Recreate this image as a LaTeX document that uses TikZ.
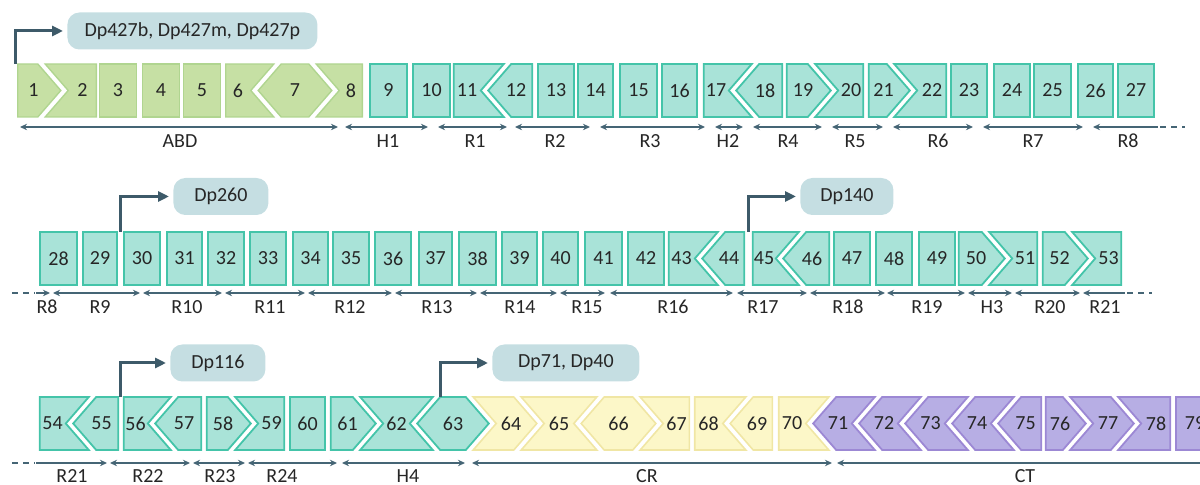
\documentclass[tikz,border=0pt]{standalone}
\usepackage{fontspec}
\setmainfont{Carlito}
\usetikzlibrary{arrows.meta}

\definecolor{abdfill}{HTML}{C6E0A4}
\definecolor{abdline}{HTML}{B0D590}
\definecolor{rodfill}{HTML}{A9E3D8}
\definecolor{rodline}{HTML}{44C4A9}
\definecolor{crfill}{HTML}{FCF7C8}
\definecolor{crline}{HTML}{F0E6A4}
\definecolor{ctfill}{HTML}{B7AEE4}
\definecolor{ctline}{HTML}{9C88D4}
\definecolor{promfill}{HTML}{C5DEE2}
\definecolor{promline}{HTML}{3D5A69}
\definecolor{domline}{HTML}{456575}

% half depth of a chevron side
\newcommand{\chevw}{11.5}
% style, top, left, right, left side, right side (1 point, -1 notch, 0 flat), number
\newcommand{\exon}[7]{%
  \pgfmathsetmacro{\exL}{#3+3*(#5)*(#5)+0.7}%
  \pgfmathsetmacro{\exR}{#4-3*(#6)*(#6)-0.7}%
  \pgfmathsetmacro{\exM}{(\exL+\exR)/2+3*((#5)*(#5)-(#5)-(#6)*(#6)+(#6))}%
  \filldraw[#1] ({\exL+(#5)*\chevw},#2) -- ({\exR-(#6)*\chevw},#2)
    -- ({\exR+(#6)*\chevw},#2+26.5) -- ({\exR-(#6)*\chevw},#2+53)
    -- ({\exL+(#5)*\chevw},#2+53) -- ({\exL-(#5)*\chevw},#2+26.5) -- cycle;
  \node[exnum] (e#7) at (\exM,#2+26.5) {#7};
}

\begin{document}
\begin{tikzpicture}[x=0.5pt,y=-0.5pt,>={Stealth[length=3.5pt,width=3.2pt]},
  abdex/.style={fill=abdfill,draw=abdline,line width=0.7pt},
  rodex/.style={fill=rodfill,draw=rodline,line width=0.9pt},
  crex/.style={fill=crfill,draw=crline,line width=0.8pt},
  ctex/.style={fill=ctfill,draw=ctline,line width=0.9pt},
  exnum/.style={text=black!85,inner sep=0pt},
  prom/.style={draw=promline,line width=1.5pt,shorten >=2pt,-{Triangle[length=5.5pt,width=5pt]}},
  promlab/.style={fill=promfill,rounded corners=6pt,anchor=west,minimum height=18.5pt,inner xsep=2pt,text=black!85},
  dom/.style={draw=domline,line width=0.75pt,<->},
  domdash/.style={draw=domline,line width=0.75pt,dash pattern=on 3pt off 2.5pt},
  domlab/.style={text=black!85,inner sep=0pt}]
  \useasboundingbox (0,0) rectangle (1200,485);

  % row 1
  \exon{abdex}{64}{17}{53}{0}{1}{1}
  \exon{abdex}{64}{53}{97}{-1}{0}{2}
  \exon{abdex}{64}{99}{137}{0}{0}{3}
  \exon{abdex}{64}{142}{180}{0}{0}{4}
  \exon{abdex}{64}{183}{221}{0}{0}{5}
  \exon{abdex}{64}{225}{266}{0}{-1}{6}
  \exon{abdex}{64}{266}{324}{1}{1}{7}
  \exon{abdex}{64}{324}{363}{-1}{0}{8}
  \exon{rodex}{64}{369}{408}{0}{0}{9}
  \exon{rodex}{64}{412}{451}{0}{0}{10}
  \exon{rodex}{64}{453}{496}{0}{-1}{11}
  \exon{rodex}{64}{496}{533}{1}{0}{12}
  \exon{rodex}{64}{537}{575}{0}{0}{13}
  \exon{rodex}{64}{577}{614}{0}{0}{14}
  \exon{rodex}{64}{619}{658}{0}{0}{15}
  \exon{rodex}{64}{661}{698}{0}{0}{16}
  \exon{rodex}{64}{703}{744}{0}{-1}{17}
  \exon{rodex}{64}{744}{783}{1}{0}{18}
  \exon{rodex}{64}{786}{823}{0}{1}{19}
  \exon{rodex}{64}{823}{864}{-1}{0}{20}
  \exon{rodex}{64}{868}{902}{0}{1}{21}
  \exon{rodex}{64}{902}{947}{-1}{0}{22}
  \exon{rodex}{64}{950}{988}{0}{0}{23}
  \exon{rodex}{64}{993}{1031}{0}{0}{24}
  \exon{rodex}{64}{1033}{1072}{0}{0}{25}
  \exon{rodex}{64}{1077}{1114}{0}{0}{26}
  \exon{rodex}{64}{1117}{1155}{0}{0}{27}

  \coordinate (p427) at (15,64);
  \draw (67,31) node[promlab,minimum width=125pt] (dp427) {Dp427b, Dp427m, Dp427p};
  \draw[prom] (p427) |- (dp427.west);

  \draw[dom] (20,127) -- (338,127) node[domlab] (ABD) at (180,141) {ABD};
  \draw[dom] (345,127) -- (428,127) node[domlab] (H1) at (388,141) {H1};
  \draw[dom] (438,127) -- (507,127) node[domlab] (R1) at (475,141) {R1};
  \draw[dom] (515,127) -- (590,127) node[domlab] (R2) at (555,141) {R2};
  \draw[dom] (600,127) -- (705,127) node[domlab] (R3) at (650,141) {R3};
  \draw[dom] (715,127) -- (743,127) node[domlab] (H2) at (728,141) {H2};
  \draw[dom] (753,127) -- (822,127) node[domlab] (R4) at (788,141) {R4};
  \draw[dom] (832,127) -- (883,127) node[domlab] (R5) at (855,141) {R5};
  \draw[dom] (893,127) -- (973,127) node[domlab] (R6) at (938,141) {R6};
  \draw[dom] (983,127) -- (1083,127) node[domlab] (R7) at (1033,141) {R7};
  \draw[dom,<-] (1093,127) -- (1158,127) node[domlab] (R8a) at (1128,141) {R8};
  \draw[domdash] (1160,127) -- (1185,127);

  % row 2
  \exon{rodex}{232}{39}{78}{0}{0}{28}
  \exon{rodex}{232}{82}{118}{0}{0}{29}
  \exon{rodex}{232}{123}{161}{0}{0}{30}
  \exon{rodex}{232}{166}{203}{0}{0}{31}
  \exon{rodex}{232}{207}{245}{0}{0}{32}
  \exon{rodex}{232}{249}{287}{0}{0}{33}
  \exon{rodex}{232}{292}{329}{0}{0}{34}
  \exon{rodex}{232}{332}{370}{0}{0}{35}
  \exon{rodex}{232}{374}{412}{0}{0}{36}
  \exon{rodex}{232}{418}{453}{0}{0}{37}
  \exon{rodex}{232}{458}{497}{0}{0}{38}
  \exon{rodex}{232}{501}{538}{0}{0}{39}
  \exon{rodex}{232}{542}{579}{0}{0}{40}
  \exon{rodex}{232}{584}{623}{0}{0}{41}
  \exon{rodex}{232}{627}{665}{0}{0}{42}
  \exon{rodex}{232}{668}{710}{0}{-1}{43}
  \exon{rodex}{232}{710}{745}{1}{0}{44}
  \exon{rodex}{232}{752}{791}{0}{-1}{45}
  \exon{rodex}{232}{791}{830}{1}{0}{46}
  \exon{rodex}{232}{833}{871}{0}{0}{47}
  \exon{rodex}{232}{875}{913}{0}{0}{48}
  \exon{rodex}{232}{918}{956}{0}{0}{49}
  \exon{rodex}{232}{958}{997}{0}{1}{50}
  \exon{rodex}{232}{997}{1038}{-1}{0}{51}
  \exon{rodex}{232}{1042}{1080}{0}{1}{52}
  \exon{rodex}{232}{1080}{1122}{-1}{0}{53}

  \coordinate (p260) at (120,232);
  \draw (173,196.5) node[promlab,minimum width=47.5pt] (dp260) {Dp260};
  \draw[prom] (p260) |- (dp260.west);
  \coordinate (p140) at (748,232);
  \draw (800,196.5) node[promlab,minimum width=46.5pt] (dp140) {Dp140};
  \draw[prom] (p140) |- (dp140.west);

  \draw[domdash] (12,293) -- (35,293);
  \draw[dom,->] (36,293) -- (50,293) node[domlab] (R8b) at (47,307) {R8};
  \draw[dom] (53,293) -- (140,293) node[domlab] (R9) at (100,307) {R9};
  \draw[dom] (143,293) -- (222,293) node[domlab] (R10) at (187,307) {R10};
  \draw[dom] (225,293) -- (305,293) node[domlab] (R11) at (270,307) {R11};
  \draw[dom] (308,293) -- (392,293) node[domlab] (R12) at (350,307) {R12};
  \draw[dom] (395,293) -- (477,293) node[domlab] (R13) at (437,307) {R13};
  \draw[dom] (480,293) -- (557,293) node[domlab] (R14) at (520,307) {R14};
  \draw[dom] (560,293) -- (605,293) node[domlab] (R15) at (587,307) {R15};
  \draw[dom] (610,293) -- (733,293) node[domlab] (R16) at (673,307) {R16};
  \draw[dom] (737,293) -- (807,293) node[domlab] (R17) at (763,307) {R17};
  \draw[dom] (810,293) -- (885,293) node[domlab] (R18) at (848,307) {R18};
  \draw[dom] (887,293) -- (965,293) node[domlab] (R19) at (927,307) {R19};
  \draw[dom] (968,293) -- (1012,293) node[domlab] (H3) at (992,307) {H3};
  \draw[dom] (1015,293) -- (1080,293) node[domlab] (R20) at (1050,307) {R20};
  \draw[dom,<-] (1083,293) -- (1125,293) node[domlab] (R21a) at (1105,307) {R21};
  \draw[domdash] (1127,293) -- (1152,293);

  % row 3
  \exon{rodex}{397}{39}{81}{0}{-1}{54}
  \exon{rodex}{397}{81}{119}{1}{0}{55}
  \exon{rodex}{397}{123}{163}{0}{-1}{56}
  \exon{rodex}{397}{163}{202}{1}{0}{57}
  \exon{rodex}{397}{206}{243}{0}{1}{58}
  \exon{rodex}{397}{243}{285}{-1}{0}{59}
  \exon{rodex}{397}{289}{326}{0}{0}{60}
  \exon{rodex}{397}{330}{368}{0}{1}{61}
  \exon{rodex}{397}{368}{425}{-1}{-1}{62}
  \exon{rodex}{397}{425}{481}{1}{1}{63}
  \exon{crex}{397}{481}{529}{-1}{1}{64}
  \exon{crex}{397}{529}{589}{-1}{-1}{65}
  \exon{crex}{397}{589}{648}{1}{1}{66}
  \exon{crex}{397}{648}{690}{-1}{0}{67}
  \exon{crex}{397}{694}{738}{0}{-1}{68}
  \exon{crex}{397}{738}{773}{1}{0}{69}
  \exon{crex}{397}{778}{821}{0}{-1}{70}
  \exon{ctex}{397}{821}{867}{1}{-1}{71}
  \exon{ctex}{397}{867}{913}{1}{-1}{72}
  \exon{ctex}{397}{913}{960}{1}{-1}{73}
  \exon{ctex}{397}{960}{1006}{1}{-1}{74}
  \exon{ctex}{397}{1006}{1042}{1}{0}{75}
  \exon{ctex}{397}{1045}{1078}{0}{1}{76}
  \exon{ctex}{397}{1078}{1126}{-1}{1}{77}
  \exon{ctex}{397}{1126}{1171}{-1}{0}{78}
  \exon{ctex}{397}{1175}{1215}{0}{0}{79}

  \coordinate (p116) at (120,397);
  \draw (170,363) node[promlab,minimum width=47.5pt] (dp116) {Dp116};
  \draw[prom] (p116) |- (dp116.west);
  \coordinate (p71) at (440,397);
  \draw (492,363) node[promlab,minimum width=73.5pt] (dp71) {Dp71, Dp40};
  \draw[prom] (p71) |- (dp71.west);

  \draw[domdash] (12,463) -- (35,463);
  \draw[dom,->] (36,463) -- (107,463) node[domlab] (R21b) at (72,476) {R21};
  \draw[dom] (110,463) -- (190,463) node[domlab] (R22) at (148,476) {R22};
  \draw[dom] (193,463) -- (245,463) node[domlab] (R23) at (220,476) {R23};
  \draw[dom] (248,463) -- (337,463) node[domlab] (R24) at (282,476) {R24};
  \draw[dom] (342,463) -- (465,463) node[domlab] (H4) at (408,476) {H4};
  \draw[dom] (472,463) -- (832,463) node[domlab] (CR) at (647,476) {CR};
  \draw[dom,<-] (837,463) -- (1205,463) node[domlab] (CT) at (1025,476) {CT};
\end{tikzpicture}
\end{document}
